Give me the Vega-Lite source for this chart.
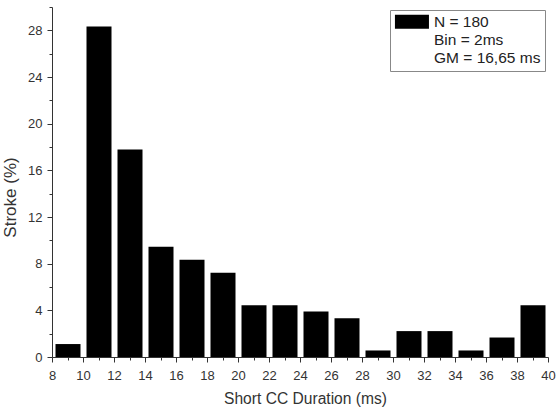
{
  "$schema": "https://vega.github.io/schema/vega-lite/v6.json",
  "width": 496,
  "height": 350,
  "padding": {"left": 1, "top": 1, "right": 0, "bottom": 2},
  "background": "white",
  "config": {
    "view": {"stroke": null},
    "font": "Liberation Sans",
    "axis": {"domainColor": "#333", "tickColor": "#333", "labelColor": "#333", "titleColor": "#333", "labelFont": "Liberation Sans", "titleFont": "Liberation Sans", "labelFontSize": 13, "titleFontSize": 15.6, "titleFontWeight": "normal", "grid": false}
  },
  "data": {
    "values": [
      {"start": 8, "end": 10, "pct": 1.11, "series": "N = 180"},
      {"start": 10, "end": 12, "pct": 28.33, "series": "N = 180"},
      {"start": 12, "end": 14, "pct": 17.78, "series": "N = 180"},
      {"start": 14, "end": 16, "pct": 9.44, "series": "N = 180"},
      {"start": 16, "end": 18, "pct": 8.33, "series": "N = 180"},
      {"start": 18, "end": 20, "pct": 7.22, "series": "N = 180"},
      {"start": 20, "end": 22, "pct": 4.44, "series": "N = 180"},
      {"start": 22, "end": 24, "pct": 4.44, "series": "N = 180"},
      {"start": 24, "end": 26, "pct": 3.89, "series": "N = 180"},
      {"start": 26, "end": 28, "pct": 3.33, "series": "N = 180"},
      {"start": 28, "end": 30, "pct": 0.56, "series": "N = 180"},
      {"start": 30, "end": 32, "pct": 2.22, "series": "N = 180"},
      {"start": 32, "end": 34, "pct": 2.22, "series": "N = 180"},
      {"start": 34, "end": 36, "pct": 0.56, "series": "N = 180"},
      {"start": 36, "end": 38, "pct": 1.67, "series": "N = 180"},
      {"start": 38, "end": 40, "pct": 4.44, "series": "N = 180"}
    ]
  },
  "mark": {"type": "bar", "binSpacing": 6},
  "encoding": {
    "x": {
      "field": "start", "type": "quantitative", "bin": "binned",
      "scale": {"domain": [8, 40], "nice": false, "zero": false},
      "axis": {
        "title": "Short CC Duration (ms)",
        "values": [8,9,10,11,12,13,14,15,16,17,18,19,20,21,22,23,24,25,26,27,28,29,30,31,32,33,34,35,36,37,38,39,40],
        "labelExpr": "datum.value % 2 === 0 ? datum.label : ''",
        "tickSize": {"condition": {"test": "datum.value % 2 === 0", "value": 5}, "value": 3},
        "labelPadding": 7,
        "titlePadding": 9,
        "titleX": 253,
        "labelFlush": false,
        "labelOverlap": false
      }
    },
    "x2": {"field": "end"},
    "y": {
      "field": "pct", "type": "quantitative",
      "scale": {"domain": [0, 30], "nice": false},
      "axis": {
        "title": "Stroke (%)",
        "titleFontSize": 17,
        "titleY": 190,
        "values": [0,2,4,6,8,10,12,14,16,18,20,22,24,26,28,30],
        "labelExpr": "datum.value % 4 === 0 && datum.value < 30 ? datum.label : ''",
        "tickSize": {"condition": {"test": "datum.value % 4 === 0", "value": 5}, "value": 3},
        "labelPadding": 5,
        "titlePadding": 8,
        "labelFlush": false,
        "labelOverlap": false
      }
    },
    "color": {
      "field": "series", "type": "nominal",
      "scale": {"domain": ["N = 180", "Bin = 2ms", "GM = 16,65 ms"], "range": ["black", "transparent", "transparent"]},
      "legend": {
        "title": null,
        "orient": "top-right",
        "offset": 3,
        "strokeColor": "#888",
        "fillColor": "white",
        "padding": 4,
        "symbolType": "M-2.43,-1H2.43V1H-2.43Z",
        "symbolSize": 196,
        "symbolOffset": 10.2,
        "symbolStrokeWidth": 0,
        "symbolOpacity": 1,
        "labelOffset": 14.3,
        "labelFontSize": 15.5,
        "labelColor": "#222",
        "labelFont": "Liberation Sans",
        "rowPadding": 1,
        "labelLimit": 200
      }
    }
  }
}
